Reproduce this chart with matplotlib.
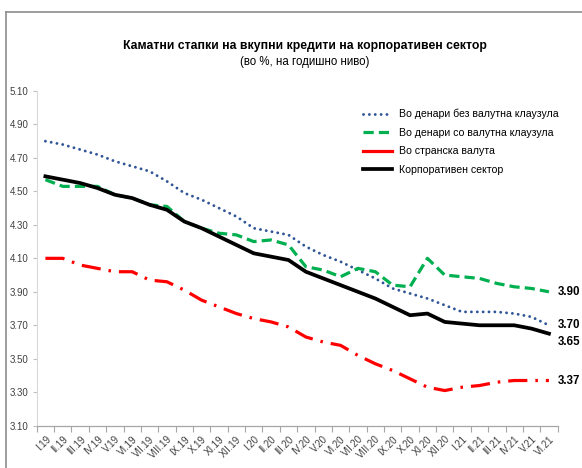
import numpy as np
import matplotlib.pyplot as plt
from matplotlib.lines import Line2D

FONT = ["Liberation Sans", "DejaVu Sans"]
plt.rcParams["font.family"] = FONT

months = [
    "I.19", "II.19", "III.19", "IV.19", "V.19", "VI.19", "VII.19", "VIII.19",
    "IX.19", "X.19", "XI.19", "XII.19", "I.20", "II.20", "III.20", "IV.20",
    "V.20", "VI.20", "VII.20", "VIII.20", "IX.20", "X.20", "XI.20", "XII.20",
    "I.21", "II.21", "III.21", "IV.21", "V.21", "VI.21",
]

# denars without FX clause
den_no_fx = [4.80, 4.78, 4.75, 4.72, 4.68, 4.65, 4.62, 4.56, 4.49, 4.45,
             4.40, 4.35, 4.28, 4.26, 4.24, 4.17, 4.12, 4.08, 4.03, 3.98,
             3.92, 3.89, 3.86, 3.82, 3.78, 3.78, 3.78, 3.77, 3.75, 3.70]
# denars with FX clause
den_fx = [4.57, 4.53, 4.53, 4.53, 4.48, 4.46, 4.42, 4.41, 4.32, 4.28,
          4.25, 4.24, 4.20, 4.21, 4.18, 4.05, 4.03, 3.99, 4.04, 4.02,
          3.94, 3.93, 4.10, 4.00, 3.99, 3.98, 3.95, 3.93, 3.92, 3.90]
# foreign currency
foreign = [4.10, 4.10, 4.06, 4.04, 4.02, 4.02, 3.97, 3.96, 3.91, 3.85,
           3.81, 3.77, 3.74, 3.72, 3.69, 3.63, 3.60, 3.58, 3.52, 3.47,
           3.43, 3.38, 3.33, 3.31, 3.33, 3.34, 3.36, 3.37, 3.37, 3.37]
# corporate sector total
corporate = [4.59, 4.57, 4.55, 4.52, 4.48, 4.46, 4.42, 4.39, 4.32, 4.28,
             4.23, 4.18, 4.13, 4.11, 4.09, 4.02, 3.98, 3.94, 3.90, 3.86,
             3.81, 3.76, 3.77, 3.72, 3.71, 3.70, 3.70, 3.70, 3.68, 3.65]

labels = [
    "Во денари без валутна клаузула",
    "Во денари со валутна клаузула",
    "Во странска валута",
    "Корпоративен сектор",
]

BLUE = "#2F5597"
GREEN = "#00B050"
RED = "#FF0000"
BLACK = "#000000"

x = np.arange(len(months))

fig = plt.figure(figsize=(5.82, 4.68), dpi=100)
ax = fig.add_axes([0.0631, 0.0904, 0.895, 0.7152])

ax.plot(x, den_no_fx, color=BLUE, lw=2.1, linestyle=(0, (0.01, 2.0)),
        dash_capstyle="round")
ax.plot(x, den_fx, color=GREEN, lw=2.3, linestyle=(0, (3.2, 1.6)))
ax.plot(x, foreign, color=RED, lw=2.3, linestyle=(0, (6, 2.5, 0.8, 2.5)))
ax.plot(x, corporate, color=BLACK, lw=2.7, solid_joinstyle="round")

ax.set_xlim(-0.5, len(months) - 0.5)
ax.set_ylim(3.10, 5.10)
ax.set_yticks(np.arange(3.10, 5.11, 0.20))
ax.set_yticklabels([f"{v:.2f}" for v in np.arange(3.10, 5.11, 0.20)])

ax.set_xticks(np.arange(-0.5, len(months), 1.0))
ax.set_xticklabels([])
ax.set_xticks(x, minor=True)
ax.set_xticklabels(months, minor=True, rotation=45, ha="right",
                   rotation_mode="anchor")
ax.tick_params(axis="x", which="major", length=4, color="#A6A6A6", width=0.8)
ax.tick_params(axis="x", which="minor", length=0, pad=6, labelsize=7,
               labelcolor="#404040")
ax.tick_params(axis="y", length=3, color="#BFBFBF", width=0.8, labelsize=7,
               labelcolor="#404040", pad=3)

for side in ["top", "right"]:
    ax.spines[side].set_visible(False)
ax.spines["left"].set_color("#D9D9D9")
ax.spines["left"].set_linewidth(0.8)
ax.spines["bottom"].set_color("#A6A6A6")
ax.spines["bottom"].set_linewidth(0.9)

# end-of-series value labels
end_labels = [
    (den_fx[-1], 0),
    (den_no_fx[-1], 0),
    (corporate[-1], -6),
    (foreign[-1], 0),
]
for val, dy in end_labels:
    ax.annotate(f"{val:.2f}", xy=(1.0, val), xycoords=("axes fraction", "data"),
                xytext=(0, dy), textcoords="offset points", ha="left",
                va="center", fontsize=8.3, fontweight="bold", color="#000000",
                annotation_clip=False)

handles = [
    Line2D([], [], color=BLUE, lw=2.1, linestyle=(0, (0.01, 2.0)),
           dash_capstyle="round"),
    Line2D([], [], color=GREEN, lw=2.3, linestyle=(0, (3.2, 1.6))),
    Line2D([], [], color=RED, lw=2.3),
    Line2D([], [], color=BLACK, lw=2.7),
]
fig.legend(handles, labels, loc="upper left",
           bbox_to_anchor=(363 / 582, 1 - 109 / 468),
           bbox_transform=fig.transFigure, frameon=False, fontsize=7.6,
           handlelength=2.7, handletextpad=0.7, labelspacing=0.8,
           borderpad=0, borderaxespad=0)

fig.text(305 / 582, 1 - 46 / 468,
         "Каматни стапки на вкупни кредити на корпоративен сектор",
         ha="center", va="center", fontsize=8.8, fontweight="bold")
fig.text(305 / 582, 1 - 62 / 468, "(во %, на годишно ниво)",
         ha="center", va="center", fontsize=8.3)

# outer frame (left and top edges visible)
fig.add_artist(Line2D([6 / 582, 6 / 582], [0, 1 - 12 / 468],
                      transform=fig.transFigure, color="#8C8C8C", lw=1.2))
fig.add_artist(Line2D([6 / 582, 1], [1 - 12 / 468, 1 - 12 / 468],
                      transform=fig.transFigure, color="#8C8C8C", lw=1.2))

fig.savefig("out.png", dpi=100)
